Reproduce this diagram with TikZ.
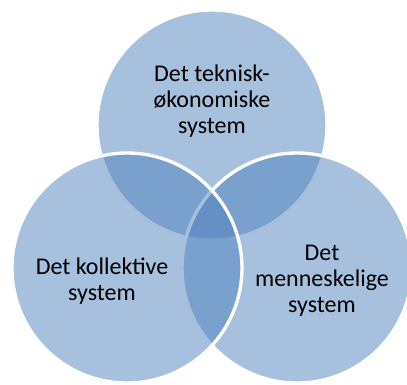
\documentclass[tikz,border=0pt]{standalone}
\usepackage{fontspec}
\setmainfont{Carlito}
\usepackage{tikz}
\definecolor{accent}{HTML}{4F81BD}
\tikzstyle{venn}=[circle,minimum size=172.5pt,inner sep=0pt,fill=accent,fill opacity=.5,draw=white,line width=2.5pt]
\tikzstyle{lbl}=[align=center,text=black,font=\fontsize{18}{19.5}\selectfont]

\begin{document}
\begin{tikzpicture}[x=.75pt,y=.75pt]
    \useasboundingbox (0,0) rectangle (407,385);
    \clip (0,0) rectangle (407,385);
    % circles: top first, then right, then left
    \foreach \n/\p in {tek/{212,260}, men/{297,117}, kol/{127,117}}
        \node[venn] (\n) at (\p) {};
    \node[lbl] (tektxt) at (212,284) {Det teknisk-\\økonomiske\\system};
    \node[lbl] (koltxt) at (102,104) {Det kollektive\\system};
    \node[lbl] (mentxt) at (322,104) {Det\\menneskelige\\system};
\end{tikzpicture}
\end{document}
